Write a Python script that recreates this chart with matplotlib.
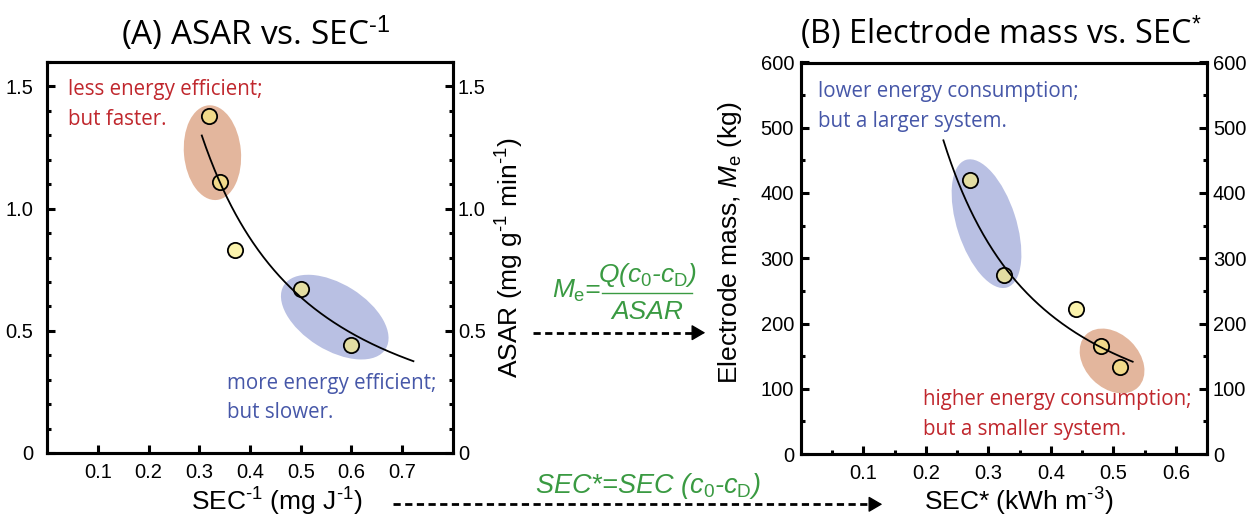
import numpy as np
import matplotlib
matplotlib.use("Agg")
import matplotlib.pyplot as plt
from matplotlib.patches import Ellipse, FancyArrowPatch
from matplotlib.lines import Line2D
from matplotlib.transforms import ScaledTranslation

# ---------------- data ----------------
sec_inv = [0.32, 0.34, 0.37, 0.50, 0.60]          # SEC^-1 (mg J^-1)
asar = [1.38, 1.11, 0.83, 0.67, 0.44]             # ASAR (mg g^-1 min^-1)
sec_star = [0.27, 0.325, 0.44, 0.48, 0.51]        # SEC* (kWh m^-3)
mass = [420, 275, 222, 165, 133]                  # electrode mass (kg)

# power-law trend lines y = a * x**b
fitA_a, fitA_b, fitA_range = 0.235, -1.44, (0.305, 0.722)
fitB_a, fitB_b, fitB_range = 56.6, -1.447, (0.228, 0.531)

xticksA = [0.1, 0.2, 0.3, 0.4, 0.5, 0.6, 0.7]
yticksA = [0, 0.5, 1.0, 1.5]
yticklabelsA = ["0", "0.5", "1.0", "1.5"]
xticksB = [0.1, 0.2, 0.3, 0.4, 0.5, 0.6]
yticksB = [0, 100, 200, 300, 400, 500, 600]

# ---------------- style ----------------
plt.rcParams["font.family"] = ["Liberation Sans", "DejaVu Sans"]
plt.rcParams["mathtext.fontset"] = "custom"
plt.rcParams["mathtext.rm"] = "Liberation Sans"
plt.rcParams["mathtext.it"] = "Liberation Sans:italic"
plt.rcParams["mathtext.bf"] = "Liberation Sans:bold"

W, H, DPI = 1251, 518, 100
fig = plt.figure(figsize=(W / DPI, H / DPI), dpi=DPI)

def fx(x):
    return x / W

def fy(y):
    return 1 - y / H

ORANGE = "#e3b69d"
BLUE = "#b9c0e3"
RED = "#c0272d"
BLUET = "#4657a8"
GREEN = "#3a9a42"
MFACE = (0.98, 0.93, 0.50, 0.65)
HUMAN = ["Open Sans", "DejaVu Sans"]
TICKFS = 14.5
SPW = 2.2
LABFS = 19

axA = fig.add_axes([fx(47), fy(453), (453 - 47) / W, (453 - 62) / H])
axB = fig.add_axes([fx(801), fy(454), (1207 - 801) / W, (454 - 62.5) / H])

def style_axes(ax, xlim, ylim, xt, yt, ylabels, xminor, yminor, lpad, rpad):
    ax.set_xlim(*xlim)
    ax.set_ylim(*ylim)
    for s in ax.spines.values():
        s.set_linewidth(SPW)
    ax.set_xticks(xt)
    ax.set_xticklabels([("%.1f" % v) for v in xt])
    if xminor is not None:
        ax.set_xticks(xminor, minor=True)
    ax.set_yticks(yt)
    ax.set_yticklabels(ylabels)
    ax.set_yticks(yminor, minor=True)
    ax.tick_params(axis="both", which="major", direction="in", length=6,
                   width=SPW, labelsize=TICKFS)
    ax.tick_params(axis="both", which="minor", direction="in", length=3,
                   width=SPW)
    ax.tick_params(axis="x", which="both", top=False, pad=7.5)
    ax.tick_params(axis="y", which="both", left=True, right=False, pad=lpad)
    tw = ax.twinx()
    tw.set_ylim(*ylim)
    tw.set_yticks(yt)
    tw.set_yticklabels(ylabels)
    tw.set_yticks(yminor, minor=True)
    for s in tw.spines.values():
        s.set_linewidth(SPW)
    tw.tick_params(axis="y", which="major", direction="in", length=6,
                   width=SPW, labelsize=TICKFS, pad=rpad)
    tw.tick_params(axis="y", which="minor", direction="in", length=3,
                   width=SPW)
    return tw

twA = style_axes(axA, (0, 0.8), (0, 1.6), xticksA, yticksA, yticklabelsA,
                 None, np.arange(0, 1.61, 0.1), 10, 3.6)
twB = style_axes(axB, (0, 0.65), (0, 600), xticksB, yticksB,
                 [str(v) for v in yticksB], np.arange(0.05, 0.65, 0.1),
                 np.arange(0, 601, 50), 5, 4.3)

def add_ellipse(ax, center, w_px, h_px, angle, color):
    tr = fig.dpi_scale_trans + ScaledTranslation(center[0], center[1], ax.transData)
    e = Ellipse((0, 0), w_px / DPI, h_px / DPI, angle=angle, transform=tr,
                facecolor=color, edgecolor="none", zorder=1)
    ax.add_patch(e)

# panel A
add_ellipse(axA, (0.326, 1.229), 57, 95, 5, ORANGE)
add_ellipse(axA, (0.567, 0.556), 120, 66, -32, BLUE)
axA.plot(sec_inv, asar, "o", ms=11, mfc=MFACE, mec="black", mew=1.3, zorder=3)
xa = np.linspace(*fitA_range, 200)
axA.plot(xa, fitA_a * xa ** fitA_b, color="black", lw=1.3, zorder=4)

# panel B
add_ellipse(axB, (0.297, 353), 59, 134, 18, BLUE)
add_ellipse(axB, (0.498, 142.6), 74, 54, -45, ORANGE)
axB.plot(sec_star, mass, "o", ms=11, mfc=MFACE, mec="black", mew=1.3, zorder=3)
xb = np.linspace(*fitB_range, 200)
axB.plot(xb, fitB_a * xb ** fitB_b, color="black", lw=1.3, zorder=4)

# annotations (baseline = last line)
ANNFS = 14.8
LS = 1.55
fig.text(fx(68), fy(125), "less energy efficient;\nbut faster.", color=RED,
         family=HUMAN, fontsize=ANNFS, va="baseline", ha="left", linespacing=LS)
fig.text(fx(226.7), fy(418.3), "more energy efficient;\nbut slower.", color=BLUET,
         family=HUMAN, fontsize=ANNFS, va="baseline", ha="left", linespacing=LS)
fig.text(fx(817.7), fy(126.7), "lower energy consumption;\nbut a larger system.",
         color=BLUET, family=HUMAN, fontsize=ANNFS, va="baseline", ha="left",
         linespacing=LS)
fig.text(fx(923.3), fy(435), "higher energy consumption;\nbut a smaller system.",
         color=RED, family=HUMAN, fontsize=ANNFS, va="baseline", ha="left",
         linespacing=LS)

# titles
fig.text(fx(256), fy(45), r"(A) ASAR vs. SEC$^{\text{-1}}$", family=HUMAN,
         fontsize=24, ha="center", va="baseline")
fig.text(fx(1001), fy(44), r"(B) Electrode mass vs. SEC$^{*}$", family=HUMAN,
         fontsize=23.3, ha="center", va="baseline")

# axis labels
fig.text(fx(277), fy(511), r"SEC$^{\text{-1}}$ (mg J$^{\text{-1}}$)", fontsize=LABFS,
         ha="center", va="baseline")
fig.text(fx(1019), fy(511), r"SEC* (kWh m$^{\text{-3}}$)", fontsize=LABFS,
         ha="center", va="baseline")
fig.text(fx(510), fy(257.5), r"ASAR (mg g$^{\text{-1}}$ min$^{\text{-1}}$)",
         fontsize=LABFS, ha="center", va="center", rotation=90)
fig.text(fx(730), fy(243), r"Electrode mass, $M_{\mathrm{e}}$ (kg)", fontsize=LABFS,
         ha="center", va="center", rotation=90)

# green formulas
fig.text(fx(551.7), fy(298), r"$M_{\mathrm{e}}$=", color=GREEN, fontsize=19,
         style="italic", ha="left", va="baseline")
fig.text(fx(647), fy(282), r"Q($c_{\mathrm{0}}$-$c_{\mathrm{D}}$)", color=GREEN,
         fontsize=19, style="italic", ha="center", va="baseline")
fig.add_artist(Line2D([fx(601.7), fx(692.3)], [fy(293.3), fy(293.3)],
                      color=GREEN, lw=1.0, transform=fig.transFigure))
fig.text(fx(647), fy(319.3), "ASAR", color=GREEN, fontsize=19, style="italic",
         ha="center", va="baseline")
fig.text(fx(648), fy(492.7), r"SEC*=SEC ($c_{\mathrm{0}}$-$c_{\mathrm{D}}$)",
         color=GREEN, fontsize=19.5, style="italic", ha="center", va="baseline")

# dashed arrows
def dashed_arrow(x0, x1, y):
    fig.add_artist(Line2D([fx(x0), fx(x1 - 8)], [fy(y), fy(y)], color="black",
                          lw=2.0, linestyle=(0, (2.6, 1.6)),
                          transform=fig.transFigure))
    fig.add_artist(FancyArrowPatch((fx(x1 - 10), fy(y)), (fx(x1), fy(y)),
                                   transform=fig.transFigure,
                                   arrowstyle="-|>,head_length=6,head_width=3.5",
                                   color="black", lw=1.0, mutation_scale=1.4))

dashed_arrow(533, 708, 332.7)
dashed_arrow(393, 885, 504.3)

fig.savefig("out.png", dpi=DPI)
